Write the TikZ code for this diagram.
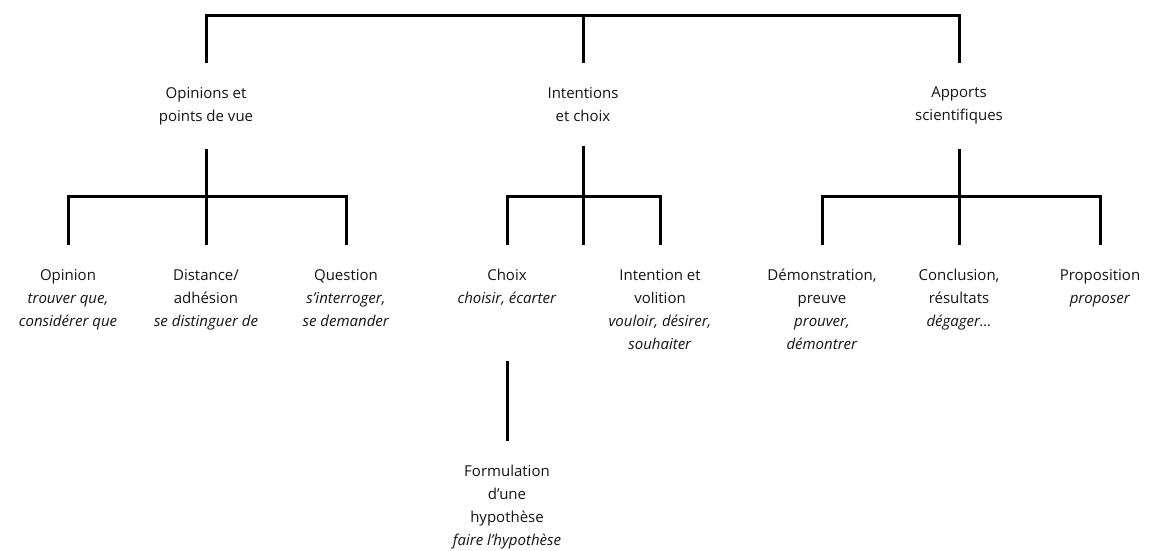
\documentclass[tikz,border=0pt]{standalone}
\usepackage{fontspec}
\setmainfont{Open Sans}
\begin{document}
\begin{tikzpicture}[x=1pt,y=-1pt,
  lbl/.style={align=center,anchor=north,inner xsep=2pt,inner ysep=24pt,text=black!92,
    font=\fontsize{15}{23}\selectfont},
  conn/.style={line width=3pt,black}]
\useasboundingbox[fill=white] (0,0) rectangle (1161,550);
% junction coordinates
\coordinate (tL) at (206,15);
\coordinate (tM) at (583,15);
\coordinate (tR) at (959,15);
\coordinate (jL) at (206,196);
\coordinate (jM) at (583,196);
\coordinate (jR) at (959,196);
% top level
\node[lbl] (op) at (206,63) {Opinions et\\points de vue};
\node[lbl] (ic) at (583,63) {Intentions\\et choix};
\node[lbl] (ap) at (959,63) {Apports\\scientifiques};
% level 3
\node[lbl] (o1) at (68,245) {Opinion\\\textit{trouver que,}\\\textit{considérer que}};
\node[lbl] (o2) at (206,245) {Distance/\\adhésion\\\textit{se distinguer de}};
\node[lbl] (o3) at (346,245) {Question\\\textit{s’interroger,}\\\textit{se demander}};
\node[lbl] (i1) at (507,245) {Choix\\\textit{choisir, écarter}};
\node[lbl] (i2) at (660,245) {Intention et\\volition\\\textit{vouloir, désirer,}\\\textit{souhaiter}};
\node[lbl] (a1) at (822,245) {Démonstration,\\preuve\\\textit{prouver,}\\\textit{démontrer}};
\node[lbl] (a2) at (959,245) {Conclusion,\\résultats\\\textit{dégager…}};
\node[lbl] (a3) at (1100,245) {Proposition\\\textit{proposer}};
\node[lbl] (fh) at (507,441) {Formulation\\d’une\\hypothèse\\\textit{faire l’hypothèse}};
% connectors
\draw[conn] (op.north) -- (tL) -- (tR) -- (ap.north);
\draw[conn] (tM) -- (ic.north);
\draw[conn] (op.south) -- (jL);
\draw[conn] (ic.south) -- (jM);
\draw[conn] (ap.south) -- (jR);
\draw[conn] (o1.north) |- (jL) -| (o3.north);
\draw[conn] (jL) -- (o2.north);
\draw[conn] (i1.north) |- (jM) -| (i2.north);
\draw[conn] (jM) -- (jM |- i1.north);
\draw[conn] (a1.north) |- (jR) -| (a3.north);
\draw[conn] (jR) -- (a2.north);
\draw[conn,shorten <=31pt] (i1.south) -- (fh.north);
\end{tikzpicture}
\end{document}
